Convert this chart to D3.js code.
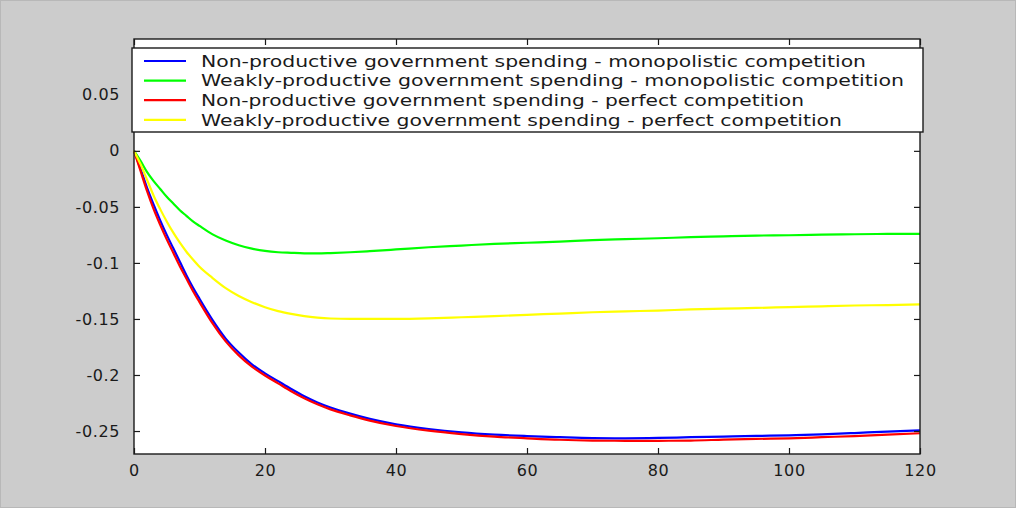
<!DOCTYPE html>
<html>
<head>
<meta charset="utf-8">
<script src="https://cdn.jsdelivr.net/npm/d3@7"></script>
<style>
  html, body { margin: 0; padding: 0; background: #cccccc; }
  svg { display: block; }
  text { font-family: "DejaVu Sans", Verdana, sans-serif; fill: #1a1a1a; }
</style>
</head>
<body>
<svg id="chart" width="1016" height="508"></svg>
<script>
// Periods after the shock
const periods = [0,1,2,3,4,5,6,7,8,9,10,12,14,16,18,20,22,24,26,28,30,33,36,40,45,50,55,60,65,70,75,80,85,90,95,100,105,110,115,120];

// Responses for each scenario
const nonProdMonop = [0,-0.016,-0.033,-0.048,-0.062,-0.075,-0.087,-0.099,-0.111,-0.122,-0.132,-0.151,-0.1675,-0.180,-0.1905,-0.1985,-0.2055,-0.2125,-0.219,-0.2245,-0.229,-0.2345,-0.2392,-0.2440,-0.2482,-0.2512,-0.2532,-0.2545,-0.2555,-0.2563,-0.2565,-0.2562,-0.2555,-0.255,-0.2544,-0.2538,-0.253,-0.2518,-0.2505,-0.2495];
const weakProdMonop = [0,-0.009,-0.019,-0.027,-0.034,-0.041,-0.047,-0.053,-0.058,-0.063,-0.067,-0.0745,-0.080,-0.0842,-0.0872,-0.0893,-0.0905,-0.091,-0.0914,-0.0915,-0.0912,-0.0905,-0.0895,-0.088,-0.086,-0.0845,-0.083,-0.082,-0.081,-0.0797,-0.0788,-0.078,-0.077,-0.0763,-0.0756,-0.0753,-0.0748,-0.0744,-0.0741,-0.074];
const nonProdPerfect = [0,-0.018,-0.036,-0.052,-0.066,-0.079,-0.091,-0.103,-0.114,-0.125,-0.135,-0.154,-0.170,-0.1825,-0.1925,-0.2005,-0.2075,-0.2145,-0.2208,-0.2262,-0.2307,-0.236,-0.2407,-0.2455,-0.2497,-0.2527,-0.2550,-0.2565,-0.2578,-0.2585,-0.2587,-0.2587,-0.2585,-0.2577,-0.257,-0.2565,-0.2555,-0.2545,-0.2533,-0.252];
const weakProdPerfect = [0,-0.012,-0.026,-0.040,-0.052,-0.063,-0.073,-0.082,-0.090,-0.097,-0.1035,-0.1135,-0.1225,-0.1295,-0.135,-0.1395,-0.143,-0.1455,-0.1475,-0.1488,-0.1496,-0.150,-0.150,-0.150,-0.1495,-0.1485,-0.1475,-0.1463,-0.1452,-0.144,-0.1432,-0.1425,-0.1415,-0.1408,-0.1402,-0.1394,-0.1387,-0.138,-0.1376,-0.137];

const seriesNames = [
  "Non-productive government spending - monopolistic competition",
  "Weakly-productive government spending - monopolistic competition",
  "Non-productive government spending - perfect competition",
  "Weakly-productive government spending - perfect competition"
];
const seriesColors = ["#0000ff", "#00ff00", "#ff0000", "#ffff00"];
const xTicks = [0,20,40,60,80,100,120];
const yTicks = [0.05,0,-0.05,-0.1,-0.15,-0.2,-0.25];

const seriesValues = [nonProdMonop, weakProdMonop, nonProdPerfect, weakProdPerfect];

const svg = d3.select("#chart");
const W = 1016, H = 508;
const plot = { left: 134, top: 39, right: 920, bottom: 454 };

svg.append("rect").attr("x", 0.5).attr("y", 0.5).attr("width", W - 1).attr("height", H - 1)
  .attr("fill", "#cccccc").attr("stroke", "#b8b8b8");

const x = d3.scaleLinear().domain([0, 120]).range([plot.left, plot.right]);
const y = d3.scaleLinear().domain([-0.2705, 0.0998]).range([plot.bottom, plot.top]);

// Plot area
svg.append("rect")
  .attr("x", plot.left).attr("y", plot.top)
  .attr("width", plot.right - plot.left).attr("height", plot.bottom - plot.top)
  .attr("fill", "#ffffff");

// Lines
const line = d3.line().x((d, i) => x(periods[i])).y(d => y(d)).curve(d3.curveMonotoneX);
const lines = svg.append("g");
seriesValues.forEach((vals, k) => {
  lines.append("path").datum(vals)
    .attr("d", line)
    .attr("fill", "none")
    .attr("stroke", seriesColors[k])
    .attr("stroke-width", 2.2)
    .attr("stroke-linejoin", "round");
});

// Axes with inward ticks on all four sides
const tickLen = 6;
const fmtY = d => d === 0 ? "0" : String(+d.toFixed(2));
const axisColor = "#1a1a1a";
const fontStack = "'DejaVu Sans', Verdana, sans-serif";

const gb = svg.append("g").attr("transform", `translate(0,${plot.bottom})`)
  .call(d3.axisBottom(x).tickValues(xTicks).tickSizeInner(-tickLen).tickSizeOuter(0).tickPadding(tickLen + 5));
const gt = svg.append("g").attr("transform", `translate(0,${plot.top})`)
  .call(d3.axisTop(x).tickValues(xTicks).tickSizeInner(-tickLen).tickSizeOuter(0).tickFormat(""));
const gl = svg.append("g").attr("transform", `translate(${plot.left},0)`)
  .call(d3.axisLeft(y).tickValues(yTicks).tickSizeInner(-tickLen).tickSizeOuter(0).tickPadding(tickLen + 8).tickFormat(fmtY));
const gr = svg.append("g").attr("transform", `translate(${plot.right},0)`)
  .call(d3.axisRight(y).tickValues(yTicks).tickSizeInner(-tickLen).tickSizeOuter(0).tickFormat(""));

[gb, gt, gl, gr].forEach(g => {
  g.select(".domain").remove();
  g.selectAll(".tick line").attr("stroke", axisColor).attr("stroke-width", 1.2);
  g.selectAll("text").attr("font-size", 16).attr("fill", axisColor)
    .attr("letter-spacing", 0.6)
    .style("font-family", fontStack);
});
gb.selectAll("text").attr("dy", "0.71em");

svg.append("rect")
  .attr("x", plot.left).attr("y", plot.top)
  .attr("width", plot.right - plot.left).attr("height", plot.bottom - plot.top)
  .attr("fill", "none").attr("stroke", axisColor).attr("stroke-width", 1.4);

// Legend
const leg = { x: 132, y: 48, w: 791, h: 84 };
const legendWidths = [665, 703, 603, 641];
const lg = svg.append("g");
lg.append("rect").attr("x", leg.x).attr("y", leg.y).attr("width", leg.w).attr("height", leg.h)
  .attr("fill", "#ffffff").attr("stroke", axisColor).attr("stroke-width", 1.4);
seriesNames.forEach((name, k) => {
  const cy = 61 + k * 19.6;
  lg.append("line").attr("x1", 144).attr("x2", 186).attr("y1", cy).attr("y2", cy)
    .attr("stroke", seriesColors[k]).attr("stroke-width", 2.2);
  lg.append("text").attr("x", 201).attr("y", cy).attr("dy", "0.36em")
    .attr("font-size", 16).attr("fill", axisColor)
    .style("font-family", fontStack)
    .attr("textLength", legendWidths[k]).attr("lengthAdjust", "spacingAndGlyphs")
    .text(name);
});
</script>
</body>
</html>
